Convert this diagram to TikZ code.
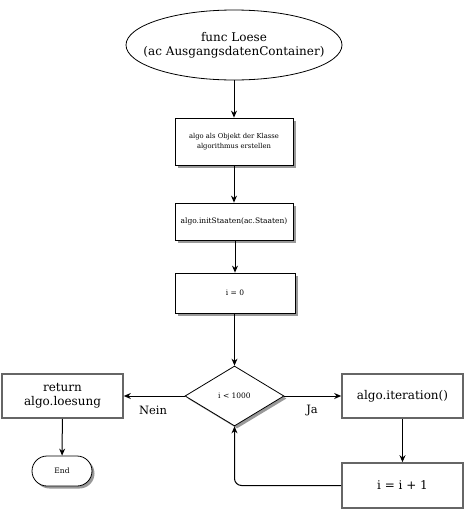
\documentclass[tikz,border=0pt]{standalone}
\usepackage{fontspec}
\setmainfont{DejaVu Serif}
\usetikzlibrary{shapes.geometric,arrows.meta,shadows,calc}
\tikzset{
  arr/.style={-{Stealth[length=7pt,width=6pt]},line width=1pt,black},
  shadowbox/.style={draw=black,line width=0.8pt,fill=white,rectangle,inner sep=1pt,align=center,
     font=\fontsize{7.5}{9.5}\selectfont,
     drop shadow={shadow xshift=2.5pt,shadow yshift=-2.5pt,fill=black!40,opacity=1}},
  graybox/.style={draw=black!60,line width=1.6pt,fill=white,rectangle,inner sep=2pt,align=center,
     font=\fontsize{12}{14}\selectfont},
  lbl/.style={font=\fontsize{11.5}{13}\selectfont,inner sep=0pt}
}
\begin{document}
\begin{tikzpicture}[x=1pt,y=-1pt]
\useasboundingbox (0,0) rectangle (464,509);
\node[ellipse,draw=black,line width=0.8pt,minimum width=216pt,minimum height=70pt,inner sep=0pt] (start) at (234,45) {};
\node[align=center,font=\fontsize{12}{14}\selectfont,inner sep=0pt] (starttext) at (start.center) {func Loese\\(ac AusgangsdatenContainer)};
\node[shadowbox,minimum width=118pt,minimum height=47pt,font=\fontsize{6.8}{9.5}\selectfont] (b1) at (234,141.5) {algo als Objekt der Klasse\\algorithmus erstellen};
\node[shadowbox,minimum width=118pt,minimum height=37pt,font=\fontsize{7.5}{9}\selectfont] (b2) at (234,221.5) {algo.initStaaten(ac.Staaten)};
\node[shadowbox,minimum width=120pt,minimum height=40pt] (b3) at (235,293) {i = 0};
\node[shadowbox,diamond,shape aspect=1.65,minimum width=99pt,minimum height=60pt,inner sep=0pt] (cond) at (234.5,396) {i < 1000};
\node[graybox,minimum width=121pt,minimum height=44pt] (ret) at (62.5,396) {return\\algo.loesung};
\node[graybox,minimum width=121pt,minimum height=44pt] (iter) at (402.5,396) {algo.iteration()};
\node[graybox,minimum width=121pt,minimum height=45pt] (inc) at (402.5,485.5) {i = i + 1};
\node[shadowbox,rounded corners=15pt,minimum width=60pt,minimum height=30pt] (end) at (62,471) {End};
\draw[arr] (start) -- (b1);
\draw[arr] (b1) -- (b2);
\draw[arr] (b2.south -| b3.north) -- (b3.north);
\draw[arr] (b3.south -| cond.north) -- (cond.north);
\draw[arr] (cond.east) -- (iter.west);
\draw[arr] (cond.west) -- (ret.east);
\draw[arr] (iter) -- (inc);
\draw[arr] (ret) -- (end);
\draw[arr,rounded corners=7pt] (inc.west) -- (cond.south |- inc.west) -- (cond.south);
\node[lbl] (ja) at (312,410) {Ja};
\node[lbl] (nein) at (153,410) {Nein};
\end{tikzpicture}
\end{document}
